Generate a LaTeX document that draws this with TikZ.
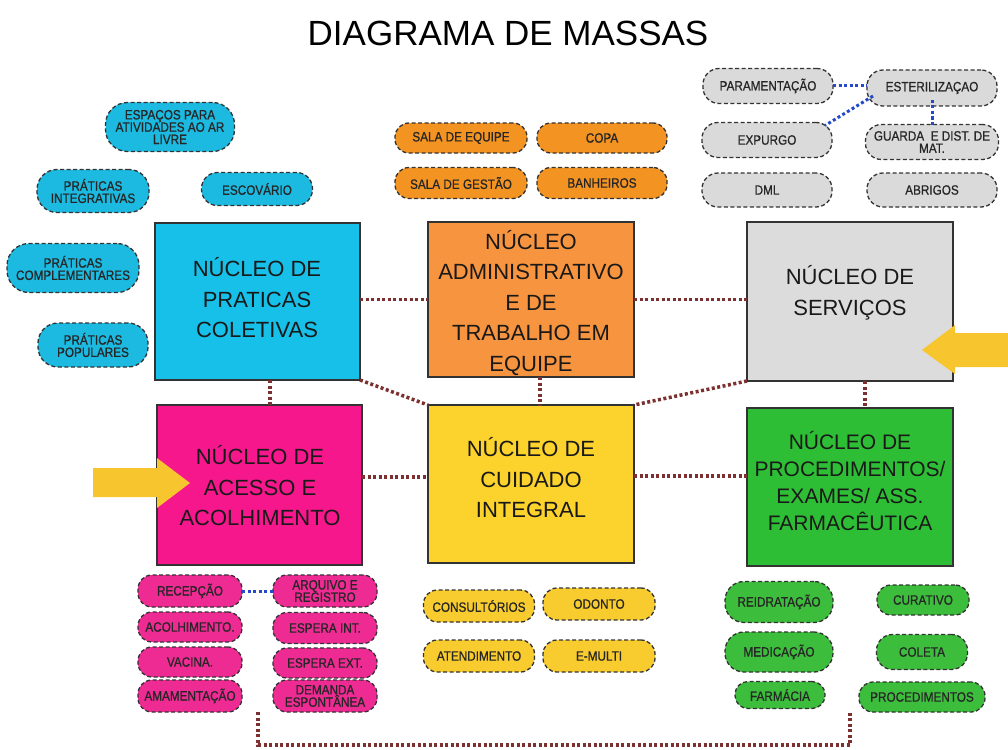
\documentclass[tikz,border=0pt]{standalone}
\usepackage{fontspec}
\setmainfont{Liberation Sans}
\newfontfamily\pillfont[FakeStretch=0.87,FakeBold=0.7]{Liberation Sans}
\usetikzlibrary{calc}
\definecolor{cyanB}{HTML}{17C0E8}
\definecolor{orangeB}{HTML}{F7943F}
\definecolor{grayB}{HTML}{DCDCDC}
\definecolor{pinkB}{HTML}{F6178D}
\definecolor{yellowB}{HTML}{FCD22C}
\definecolor{greenB}{HTML}{2EBE35}
\definecolor{cyanP}{HTML}{1CB9E0}
\definecolor{orangeP}{HTML}{F39322}
\definecolor{grayP}{HTML}{DADADA}
\definecolor{pinkP}{HTML}{EE2A93}
\definecolor{yellowP}{HTML}{F8CB2E}
\definecolor{greenP}{HTML}{3CBD3C}
\definecolor{arrowc}{HTML}{F7C62E}
\definecolor{linkc}{HTML}{7D3030}
\definecolor{bluec}{HTML}{2449C9}
\begin{document}
\begin{tikzpicture}[x=1pt,y=-1pt,
  bigbox/.style={draw=black!80, line width=1.2pt, rectangle, inner sep=0pt, outer sep=0pt},
  bigtext/.style={align=center, font=\fontsize{22}{30.5}\selectfont, text=black!90},
  pill/.style={draw=black!80, line width=1.3pt, dash pattern=on 4pt off 2.5pt, rectangle, rounded corners=14pt, align=center, inner sep=1pt, outer sep=0pt, font=\pillfont\fontsize{13.5}{12.3}\selectfont, text=black!85},
  link/.style={draw=linkc, line width=3.5pt, dash pattern=on 3pt off 2.5pt},
  bluelink/.style={draw=bluec, line width=3pt, dash pattern=on 3pt off 2.5pt},
  blockarrow/.style={fill=arrowc, draw=none}
]
\useasboundingbox (0,0) rectangle (1008,749);

% title
\node[font=\fontsize{35}{40}\selectfont] (title) at (508,33) {DIAGRAMA DE MASSAS};

% big boxes
\node[bigbox, fill=cyanB, minimum width=205pt, minimum height=157pt] (cyan) at (257.5,301.5) {};
\node[bigbox, fill=orangeB, minimum width=206pt, minimum height=155pt] (orange) at (531,299.5) {};
\node[bigbox, fill=grayB, minimum width=206pt, minimum height=159pt] (gray) at (850,301.5) {};
\node[bigbox, fill=pinkB, minimum width=205pt, minimum height=160pt] (pink) at (259.5,485) {};
\node[bigbox, fill=yellowB, minimum width=206pt, minimum height=158pt] (yellow) at (531,484) {};
\node[bigbox, fill=greenB, minimum width=206pt, minimum height=158pt] (green) at (850,487) {};

\node[bigtext] (tcyan) at (257,298) {NÚCLEO DE\\PRATICAS\\COLETIVAS};
\node[bigtext] (torange) at (531,303) {NÚCLEO\\ADMINISTRATIVO\\E DE\\TRABALHO EM\\EQUIPE};
\node[bigtext] (tgray) at (850,293) {NÚCLEO DE\\SERVIÇOS};
\node[bigtext] (tpink) at (260,486) {NÚCLEO DE\\ACESSO E\\ACOLHIMENTO};
\node[bigtext] (tyellow) at (531,478) {NÚCLEO DE\\CUIDADO\\INTEGRAL};
\node[bigtext, font=\fontsize{21}{27}\selectfont] (tgreen) at (850,481) {NÚCLEO DE\\PROCEDIMENTOS/\\EXAMES/ ASS.\\FARMACÊUTICA};

% connectors between big boxes
\draw[link] (cyan.east |- orange.west) -- (orange.west);
\draw[link] (orange.east) -- (gray.west |- orange.east);
\draw[link] ([xshift=12.5pt]cyan.south) -- ([xshift=10.5pt]pink.north);
\draw[link] (cyan.south east) -- (yellow.north west);
\draw[link] ([xshift=9pt]orange.south) -- ([xshift=9pt]yellow.north);
\draw[link] (gray.south west) -- (yellow.north east);
\draw[link] ([xshift=15pt]gray.south) -- ([xshift=15pt]green.north);
\draw[link] ([yshift=8pt]pink.east) -- ([yshift=8pt]pink.east -| yellow.west);
\draw[link] ([yshift=8pt]yellow.east) -- ([yshift=8pt]yellow.east -| green.west);

% bottom bracket
\coordinate (bl) at (258,712);
\coordinate (br) at (850,712);
\draw[link] (bl) -- ++(0,33) -| (br);

% block arrows
\fill[blockarrow] (93,468) -- (157,468) -- (157,458) -- (190,483) -- (157,508) -- (157,497) -- (93,497) -- cycle;
\fill[blockarrow] (1008,333) -- (955,333) -- (955,325) -- (922,350) -- (955,374) -- (955,367) -- (1008,367) -- cycle;

% cyan pills
\node[pill, fill=cyanP, minimum width=129pt, minimum height=49pt, rounded corners=22pt] (esp) at (170,127) {ESPAÇOS PARA\\ATIVIDADES AO AR\\LIVRE};
\node[pill, fill=cyanP, minimum width=112pt, minimum height=43pt, rounded corners=20pt] (pint) at (93,191) {PRÁTICAS\\INTEGRATIVAS};
\node[pill, fill=cyanP, minimum width=111pt, minimum height=33pt, rounded corners=16pt] (escov) at (257,189) {ESCOVÁRIO};
\node[pill, fill=cyanP, minimum width=132pt, minimum height=49pt, rounded corners=22pt] (pcomp) at (73,268) {PRÁTICAS\\COMPLEMENTARES};
\node[pill, fill=cyanP, minimum width=110pt, minimum height=44pt, rounded corners=20pt] (ppop) at (93,345) {PRÁTICAS\\POPULARES};

% orange pills
\node[pill, fill=orangeP, minimum width=132pt, minimum height=30pt] (seq) at (461,138) {SALA DE EQUIPE};
\node[pill, fill=orangeP, minimum width=130pt, minimum height=30pt] (copa) at (602,138) {COPA};
\node[pill, fill=orangeP, minimum width=132pt, minimum height=31pt] (sges) at (461,183) {SALA DE GESTÃO};
\node[pill, fill=orangeP, minimum width=130pt, minimum height=31pt] (banh) at (602,183) {BANHEIROS};

% gray pills
\node[pill, fill=grayP, minimum width=130pt, minimum height=35pt, rounded corners=16pt] (par) at (768,86) {PARAMENTAÇÃO};
\node[pill, fill=grayP, minimum width=130pt, minimum height=36pt, rounded corners=16pt] (ester) at (932,88) {ESTERILIZAÇAO};
\node[pill, fill=grayP, minimum width=130pt, minimum height=35pt, rounded corners=16pt] (expu) at (767,140) {EXPURGO};
\node[pill, fill=grayP, minimum width=133pt, minimum height=35pt, rounded corners=16pt] (guarda) at (932,142) {GUARDA\ \ E DIST. DE\\MAT.};
\node[pill, fill=grayP, minimum width=130pt, minimum height=34pt, rounded corners=16pt] (dml) at (767,190) {DML};
\node[pill, fill=grayP, minimum width=130pt, minimum height=34pt, rounded corners=16pt] (abr) at (932,190) {ABRIGOS};

\draw[bluelink] (par.east) -- (ester.west |- par.east);
\draw[bluelink] ([xshift=6pt,yshift=10pt]ester.south west) -- ([xshift=-7pt,yshift=-3pt]expu.north east);
\draw[bluelink] ([yshift=6pt]ester.south) -- (guarda.north);

% pink pills
\node[pill, fill=pinkP, minimum width=104pt, minimum height=32pt] (rec) at (190,591) {RECEPÇÃO};
\node[pill, fill=pinkP, minimum width=104pt, minimum height=32pt] (arq) at (325,591) {ARQUIVO E\\REGISTRO};
\node[pill, fill=pinkP, minimum width=104pt, minimum height=30pt] (aco) at (190,627) {ACOLHIMENTO.};
\node[pill, fill=pinkP, minimum width=104pt, minimum height=31pt] (espi) at (325,628) {ESPERA INT.};
\node[pill, fill=pinkP, minimum width=104pt, minimum height=30pt] (vac) at (190,662) {VACINA.};
\node[pill, fill=pinkP, minimum width=104pt, minimum height=30pt] (espe) at (325,663) {ESPERA EXT.};
\node[pill, fill=pinkP, minimum width=104pt, minimum height=32pt] (ama) at (190,696) {AMAMENTAÇÃO};
\node[pill, fill=pinkP, minimum width=104pt, minimum height=32pt] (dem) at (325,696) {DEMANDA\\ESPONTÂNEA};
\draw[bluelink] (rec.east) -- (arq.west);

% yellow pills
\node[pill, fill=yellowP, minimum width=111pt, minimum height=32pt] (cons) at (479,606) {CONSULTÓRIOS};
\node[pill, fill=yellowP, minimum width=112pt, minimum height=32pt] (odo) at (599,604) {ODONTO};
\node[pill, fill=yellowP, minimum width=111pt, minimum height=32pt] (aten) at (479,656) {ATENDIMENTO};
\node[pill, fill=yellowP, minimum width=112pt, minimum height=32pt] (emul) at (599,656) {E-MULTI};

% green pills
\node[pill, fill=greenP, minimum width=108pt, minimum height=41pt, rounded corners=19pt] (rei) at (779,602) {REIDRATAÇÃO};
\node[pill, fill=greenP, minimum width=92pt, minimum height=30pt] (cur) at (923,600) {CURATIVO};
\node[pill, fill=greenP, minimum width=108pt, minimum height=40pt, rounded corners=19pt] (med) at (779,652) {MEDICAÇÃO};
\node[pill, fill=greenP, minimum width=91pt, minimum height=35pt, rounded corners=16pt] (col) at (922,652) {COLETA};
\node[pill, fill=greenP, minimum width=90pt, minimum height=27pt, rounded corners=13pt] (farm) at (780,695) {FARMÁCIA};
\node[pill, fill=greenP, minimum width=126pt, minimum height=30pt] (proc) at (922,697) {PROCEDIMENTOS};
\end{tikzpicture}
\end{document}
